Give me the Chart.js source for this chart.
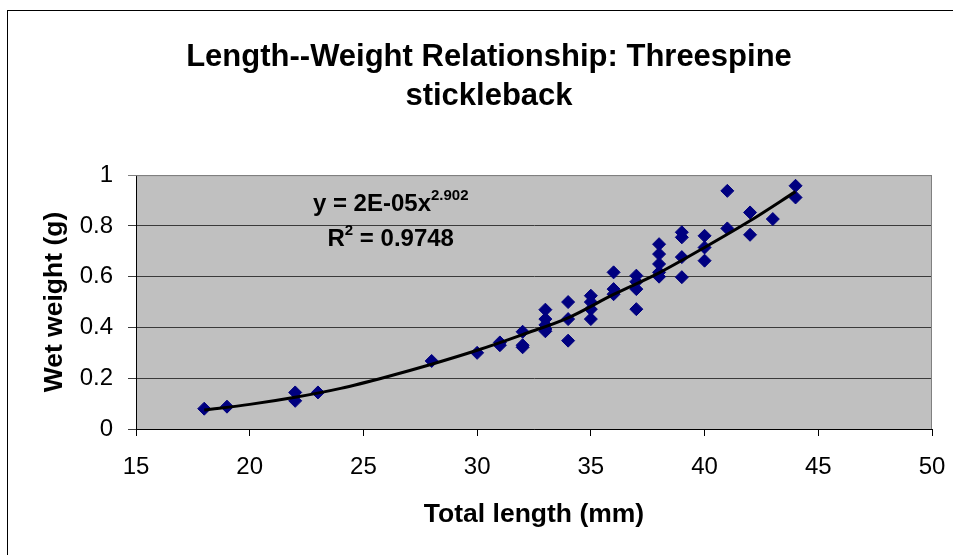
<!DOCTYPE html>
<html>
<head>
<meta charset="utf-8">
<script src="https://cdn.jsdelivr.net/npm/chart.js@4.4.1/dist/chart.umd.min.js"></script>
<style>
  html, body { margin: 0; padding: 0; background: #fff; }
  #wrap { width: 953px; height: 555px; }
</style>
</head>
<body>
<div id="wrap"><canvas id="myChart" width="953" height="555"></canvas></div>
<script>
// fish lengths (mm) and wet weights (g)
const lengths = [18, 19, 22, 22, 23, 28, 30, 31, 31, 32, 32, 32,
  33, 33, 33, 33, 33, 34, 34, 34, 35, 35, 35, 35, 36, 36, 36,
  37, 37, 37, 37, 38, 38, 38, 38, 38, 39, 39, 39, 39, 40, 40, 40,
  41, 41, 42, 42, 43, 44, 44];
const weights = [0.08, 0.088, 0.144, 0.111, 0.144, 0.268, 0.3, 0.341, 0.33, 0.383, 0.33, 0.322,
  0.47, 0.433, 0.41, 0.394, 0.385, 0.5, 0.433, 0.348, 0.525, 0.5, 0.472, 0.433, 0.617, 0.551, 0.531,
  0.604, 0.58, 0.551, 0.472, 0.728, 0.689, 0.65, 0.617, 0.6, 0.775, 0.755, 0.677, 0.598, 0.761, 0.715, 0.663,
  0.938, 0.79, 0.853, 0.765, 0.827, 0.958, 0.912];

// power trendline as drawn in the picture
const trendX = [18, 20, 22, 24, 26, 28, 30, 32, 34, 36, 38, 40, 42, 44];
const trendY = [0.075, 0.097, 0.125, 0.16, 0.205, 0.255, 0.31, 0.372, 0.438, 0.53, 0.615, 0.715, 0.82, 0.935];

const titleLines = ['Length--Weight Relationship: Threespine', 'stickleback'];
const xTitle = 'Total length (mm)';
const yTitle = 'Wet weight (g)';
const eqBase = 'y = 2E-05x';
const eqExp = '2.902';
const r2Value = ' = 0.9748';

const FONT = '"Liberation Sans", Arial, sans-serif';

const plotDecor = {
  id: 'plotDecor',
  beforeDraw(chart) {
    const { ctx, chartArea: a } = chart;
    ctx.save();
    // outer frame
    ctx.strokeStyle = '#000';
    ctx.lineWidth = 1;
    ctx.strokeRect(7.5, 10.5, 1000, 1000);
    // gray plot background
    ctx.fillStyle = '#c0c0c0';
    ctx.fillRect(a.left, a.top, a.right - a.left, a.bottom - a.top);
    ctx.restore();
  },
  afterDatasetsDraw(chart) {
    const { ctx, chartArea: a, scales } = chart;
    ctx.save();
    ctx.strokeStyle = '#808080';
    ctx.lineWidth = 1;
    ctx.beginPath();
    ctx.moveTo(a.left, a.top + 0.5);
    ctx.lineTo(a.right - 0.5, a.top + 0.5);
    ctx.lineTo(a.right - 0.5, a.bottom);
    ctx.stroke();

    // trendline equation
    const cx = scales.x.getPixelForValue(26.2);
    const y1 = scales.y.getPixelForValue(0.884);
    const y2 = scales.y.getPixelForValue(0.746);
    ctx.fillStyle = '#000';
    ctx.textBaseline = 'middle';
    ctx.font = 'bold 24px ' + FONT;
    const wBase = ctx.measureText(eqBase).width;
    ctx.font = 'bold 15px ' + FONT;
    const wExp = ctx.measureText(eqExp).width;
    let x0 = cx - (wBase + wExp) / 2;
    ctx.font = 'bold 24px ' + FONT;
    ctx.textAlign = 'left';
    ctx.fillText(eqBase, x0, y1);
    ctx.font = 'bold 15px ' + FONT;
    ctx.fillText(eqExp, x0 + wBase, y1 - 9);

    ctx.font = 'bold 24px ' + FONT;
    const wR = ctx.measureText('R').width;
    const wV = ctx.measureText(r2Value).width;
    ctx.font = 'bold 15px ' + FONT;
    const w2 = ctx.measureText('2').width;
    x0 = cx - (wR + w2 + wV) / 2;
    ctx.font = 'bold 24px ' + FONT;
    ctx.fillText('R', x0, y2);
    ctx.font = 'bold 15px ' + FONT;
    ctx.fillText('2', x0 + wR, y2 - 9);
    ctx.font = 'bold 24px ' + FONT;
    ctx.fillText(r2Value, x0 + wR + w2, y2);
    ctx.restore();
  }
};

new Chart(document.getElementById('myChart'), {
  type: 'scatter',
  data: {
    datasets: [
      {
        label: 'Wet weight',
        data: lengths.map((l, i) => ({ x: l, y: weights[i] })),
        pointStyle: 'rectRot',
        pointRadius: 6.5,
        pointBackgroundColor: '#000080',
        pointBorderColor: '#000080',
        pointBorderWidth: 1,
        showLine: false,
        order: 2
      },
      {
        label: 'Power trend',
        type: 'line',
        data: trendX.map((x, i) => ({ x: x, y: trendY[i] })),
        borderColor: '#000',
        borderWidth: 3,
        pointRadius: 0,
        cubicInterpolationMode: 'monotone',
        fill: false,
        order: 1
      }
    ]
  },
  options: {
    responsive: false,
    animation: false,
    // left padding shifts the title centre to match the original
    layout: { padding: { left: 46, right: 21, top: 0, bottom: 0 } },
    plugins: {
      legend: { display: false },
      tooltip: { enabled: false },
      title: {
        display: true,
        text: titleLines,
        color: '#000',
        font: { family: FONT, size: 31, weight: 'bold', lineHeight: 1.26 },
        padding: { top: 38, bottom: 59 }
      }
    },
    scales: {
      x: {
        type: 'linear',
        min: 15,
        max: 50,
        afterFit: s => { s.height = 126; s.paddingRight = 0; s.paddingLeft = 0; },
        ticks: {
          stepSize: 5,
          color: '#000',
          padding: 17,
          font: { family: FONT, size: 24 }
        },
        grid: { drawOnChartArea: false, tickLength: 7, color: '#000' },
        border: { color: '#000', width: 1 },
        title: {
          display: true,
          text: xTitle,
          color: '#000',
          font: { family: FONT, size: 26.5, weight: 'bold' },
          padding: { top: 0, bottom: 24 }
        }
      },
      y: {
        min: 0,
        max: 1,
        afterFit: s => { s.width = 90; },
        ticks: {
          stepSize: 0.2,
          color: '#000',
          padding: 15,
          font: { family: FONT, size: 24 },
          callback: v => String(+v.toFixed(1))
        },
        grid: {
          tickLength: 8,
          color: ctx => (ctx.tick && ctx.tick.value === 1 ? '#808080' : '#3a3a3a'),
          lineWidth: 1
        },
        border: { color: '#000', width: 1 },
        title: {
          display: true,
          text: yTitle,
          color: '#000',
          font: { family: FONT, size: 26.5, weight: 'bold' },
          padding: { top: -7, bottom: 0 }
        }
      }
    }
  },
  plugins: [plotDecor]
});
</script>
</body>
</html>
